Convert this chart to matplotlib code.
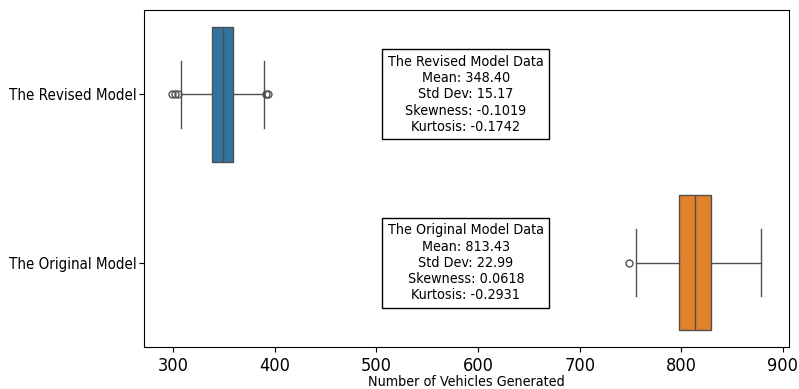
import matplotlib
matplotlib.use("Agg")
import matplotlib.pyplot as plt

models = ["The Revised Model", "The Original Model"]
box_colors = ["#3274a1", "#e1812c"]

# box stats
q1 = [338.3, 797.5]
medians = [349.0, 813.8]
q3 = [358.7, 829.7]
whisker_lo = [307.5, 755.0]
whisker_hi = [389.0, 878.0]
fliers = [[299.0, 301.5, 304.5, 391.0, 393.0], [749.0]]

means = [348.40, 813.43]
stds = [15.17, 22.99]
skews = [-0.1019, 0.0618]
kurts = [-0.1742, -0.2931]

plt.rcParams["font.family"] = "DejaVu Sans"
plt.rcParams["font.stretch"] = "condensed"

fig = plt.figure(figsize=(7.99, 3.89), dpi=100)
ax = fig.add_axes([0.180, 0.108, 0.8075, 0.866])

stats = []
for i in range(len(models)):
    stats.append({
        "med": medians[i], "q1": q1[i], "q3": q3[i],
        "whislo": whisker_lo[i], "whishi": whisker_hi[i],
        "fliers": fliers[i], "label": models[i],
    })

line_color = "#505050"
bp = ax.bxp(
    stats, positions=range(len(models)), vert=False, widths=0.8,
    patch_artist=True, showcaps=True,
    boxprops=dict(edgecolor=line_color, linewidth=1),
    medianprops=dict(color=line_color, linewidth=1),
    whiskerprops=dict(color=line_color, linewidth=1),
    capprops=dict(color=line_color, linewidth=1),
    flierprops=dict(marker="o", markerfacecolor="none", markeredgecolor=line_color,
                    markersize=5, markeredgewidth=1),
    capwidths=0.4,
)
for patch, c in zip(bp["boxes"], box_colors):
    patch.set_facecolor(c)

for i in range(len(models)):
    txt = (f"{models[i]} Data\nMean: {means[i]:.2f}\nStd Dev: {stds[i]:.2f}\n"
           f"Skewness: {skews[i]:.4f}\nKurtosis: {kurts[i]:.4f}")
    ax.text(588, i, txt, ha="center", va="center", fontsize=10.3,
            bbox=dict(facecolor="white", edgecolor="black", linewidth=1))

ax.set_ylim(1.5, -0.5)
ax.set_xlim(271, 906)
ax.set_yticks(range(len(models)))
ax.set_yticklabels(models, fontsize=10.8)
ax.tick_params(axis="y", pad=2)
ax.tick_params(axis="x", labelsize=13)
ax.set_xlabel("Number of Vehicles Generated", fontsize=10.3, labelpad=0)

fig.savefig("out.png", dpi=100)
